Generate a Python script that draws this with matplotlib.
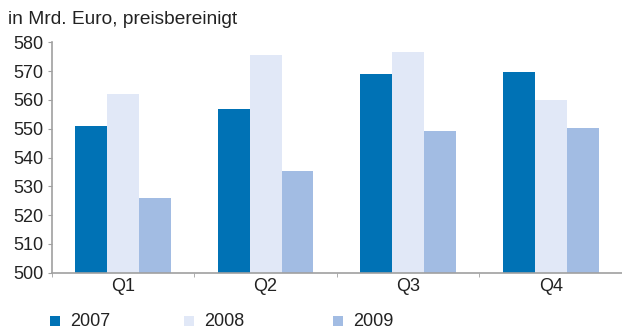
import numpy as np
import matplotlib.pyplot as plt
from matplotlib.patches import Rectangle

plt.rcParams['font.family'] = ['Liberation Sans', 'DejaVu Sans']

quarters = ['Q1', 'Q2', 'Q3', 'Q4']
years = ['2007', '2008', '2009']
v2007 = [551.0, 556.8, 569.0, 569.7]
v2008 = [562.0, 575.6, 576.6, 560.0]
v2009 = [526.0, 535.3, 549.2, 550.2]
yticks = [500, 510, 520, 530, 540, 550, 560, 570, 580]

colors = ['#0072b5', '#e1e8f7', '#a2bce3']
series = [v2007, v2008, v2009]
txt = '#222222'
fs = 13

fig = plt.figure(figsize=(6.22, 3.32), dpi=100)
ax = fig.add_axes([0.0831, 0.1786, 0.9169, 0.694])

x = np.arange(len(quarters))
w = 0.224
for i, (vals, c) in enumerate(zip(series, colors)):
    ax.bar(x + (i - 1) * w, np.array(vals) - 500, width=w, bottom=500,
           color=c, linewidth=0, zorder=2)

ax.set_xlim(-0.5, 3.5)
ax.set_ylim(500, 580)
ax.set_yticks(yticks)
ax.set_yticklabels([str(t) for t in yticks], fontsize=fs, color=txt)

# category labels at centres, tick marks at boundaries
ax.set_xticks(x)
ax.set_xticklabels(quarters, fontsize=fs, color=txt)
ax.tick_params(axis='x', which='major', length=0, pad=4)
ax.set_xticks(np.arange(-0.5, 3.6, 1.0), minor=True)
ax.tick_params(axis='x', which='minor', length=3, color='#a0a0a0', direction='out')
ax.tick_params(axis='y', length=3, color='#a0a0a0', pad=3)

for s in ['top', 'right']:
    ax.spines[s].set_visible(False)
for s in ['left', 'bottom']:
    ax.spines[s].set_color('#a0a0a0')
    ax.spines[s].set_linewidth(1.2)

fig.text(8 / 622, 1 - 23.5 / 332, 'in Mrd. Euro, preisbereinigt', fontsize=13.8,
         color=txt, va='baseline', ha='left')

# legend
leg_x = [50, 184, 333]
for lx, yr, c in zip(leg_x, years, colors):
    fig.add_artist(Rectangle((lx / 622, 1 - 326 / 332), 10 / 622, 10 / 332,
                             transform=fig.transFigure, color=c, linewidth=0))
    fig.text((lx + 20) / 622, 1 - 326.5 / 332, yr, fontsize=fs, color=txt,
             va='baseline', ha='left')

fig.savefig('out.png', dpi=100)
